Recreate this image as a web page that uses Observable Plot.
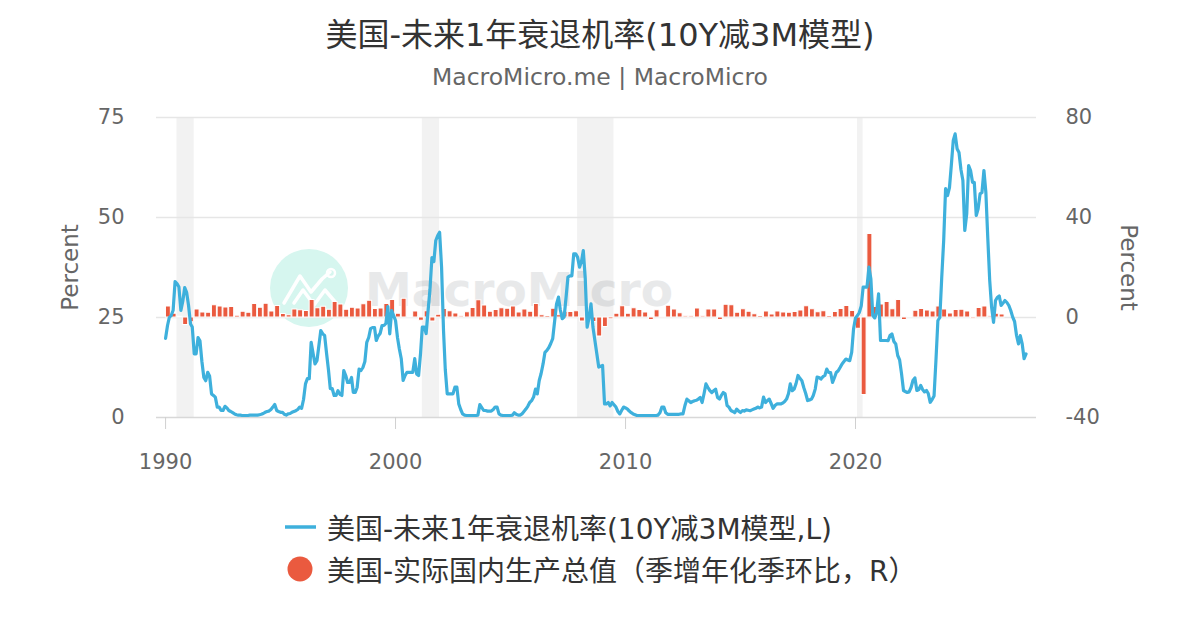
<!DOCTYPE html>
<html><head><meta charset="utf-8">
<script src="https://cdn.jsdelivr.net/npm/d3@7"></script>
<script src="https://cdn.jsdelivr.net/npm/@observablehq/plot@0.6"></script>
<style>
body{margin:0;background:#fff;font-family:"DejaVu Sans","Noto Sans CJK SC",sans-serif;}
#page{position:relative;width:1200px;height:630px;overflow:hidden;background:#fff;}
#title{position:absolute;left:0;top:17px;width:1200px;text-align:center;font-size:32px;line-height:36px;color:#333;}
#subtitle{position:absolute;left:0;top:64px;width:1200px;text-align:center;font-size:23.5px;line-height:26px;color:#666;}
#wm{position:absolute;left:0;top:0;}
#chart{position:absolute;left:0;top:100px;}
.lg{position:absolute;left:285px;height:34px;display:flex;align-items:center;font-size:28px;color:#333;white-space:nowrap;}
.lg .sym{width:42px;height:34px;flex:none;}
</style></head>
<body>
<div id="page">
  <svg id="wm" width="1200" height="630">
    <circle cx="309" cy="288" r="39" fill="#d6f6ef"></circle>
    <polyline points="284,303 300,276 311,292 322,279 330,272" fill="none" stroke="#fff" stroke-width="3.5" stroke-linejoin="round" stroke-linecap="round"></polyline>
    <polyline points="294,303 303,290 314,305 325,290 336,303" fill="none" stroke="#fff" stroke-width="3.5" stroke-linejoin="round" stroke-linecap="round"></polyline>
    <circle cx="331" cy="273" r="4" fill="none" stroke="#fff" stroke-width="2.5"></circle>
    <text x="365" y="289" dominant-baseline="central" font-family="DejaVu Sans" font-weight="bold" font-size="47" fill="#e8e9ea">MacroMicro</text>
  </svg>
  <div id="title">美国-未来1年衰退机率(10Y减3M模型)</div>
  <div id="subtitle">MacroMicro.me | MacroMicro</div>
  <div id="chart"></div>
  <div class="lg" style="top:510px"><svg class="sym" width="42" height="34"><line x1="0" y1="17" x2="31" y2="17" stroke="#3eb0dc" stroke-width="3.5"></line></svg>美国-未来1年衰退机率(10Y减3M模型,L)</div>
  <div class="lg" style="top:552px"><svg class="sym" width="42" height="34"><circle cx="15" cy="17" r="12.5" fill="#ea5a3f"></circle></svg>美国-实际国内生产总值（季增年化季环比，R）</div>
</div>
<script>
// Monthly recession probability (%) by year, Jan..Dec
const prob1990 = [19.8, 23, 25, 25.5, 26.8, 34, 33.5, 32.6, 26.8, 29, 32.5, 31.3];
const prob1991 = [28, 23.4, 22.6, 15.9, 15.9, 20, 19.2, 14, 10, 9.2, 11.3, 10.4];
const prob1992 = [5.9, 5.5, 5.1, 2.6, 2.6, 1.75, 1.75, 2.8, 2.4, 1.75, 1.5, 1.2];
const prob1993 = [0.9, 0.7, 0.6, 0.6, 0.5, 0.5, 0.5, 0.5, 0.6, 0.6, 0.6, 0.6];
const prob1994 = [0.6, 0.7, 0.8, 1.0, 1.3, 1.5, 1.6, 2.0, 2.6, 3.25, 1.75, 1.5];
const prob1995 = [1.3, 1.3, 0.8, 0.6, 0.9, 1.0, 1.3, 1.5, 1.7, 2.0, 2.6, 2.3];
const prob1996 = [4.5, 8.4, 9.7, 9.7, 18.8, 16, 13.4, 14.2, 18, 21.75, 20.9, 20.5];
const prob1997 = [16, 11.75, 7.2, 7.2, 5.5, 5.5, 6.7, 5.8, 5.5, 11.75, 10.5, 8.75];
const prob1998 = [8.75, 10, 6.3, 6.3, 7.5, 12.1, 11.75, 12.5, 14, 18.8, 20, 22.2];
const prob1999 = [22.5, 22.5, 19.25, 20.4, 21, 23, 23, 23.5, 27.75, 20.9, 26.75, 25.5];
const prob2000 = [24.25, 20, 17.2, 14.7, 9.25, 10.5, 11.3, 11.3, 11.3, 11.3, 14.7, 10.9];
const prob2001 = [10.5, 16, 22.6, 22.6, 21, 26.75, 32, 40, 39, 44.25, 45.5, 46.3];
const prob2002 = [37.6, 21.75, 12, 5.9, 5.9, 5.9, 5.9, 7.6, 7.6, 3.4, 2.0, 0.9];
const prob2003 = [0.6, 0.5, 0.5, 0.5, 0.5, 0.5, 0.5, 0.6, 3.25, 2.5, 1.75, 1.75];
const prob2004 = [1.6, 1.6, 1.6, 2.0, 2.6, 2.6, 0.9, 0.6, 0.5, 0.5, 0.5, 0.5];
const prob2005 = [0.5, 0.6, 1.2, 0.8, 0.6, 0.6, 0.9, 1.5, 2.1, 2.8, 3.75, 4.2];
const prob2006 = [5.1, 7.1, 5.9, 9.25, 11, 13.4, 16.3, 16.8, 17.5, 18.5, 19.7, 24];
const prob2007 = [28.4, 30.1, 27, 24.7, 25.1, 30, 35.1, 35.4, 35.4, 40.9, 40.9, 40.1];
const prob2008 = [37.6, 39, 41.75, 34.7, 22.6, 25, 28.4, 22.6, 19.25, 16, 12.6, 12.8];
const prob2009 = [13, 3.4, 3.4, 3.75, 2.9, 3.75, 3.2, 2.6, 1.5, 0.9, 1.8, 2.6];
const prob2010 = [2.4, 2.1, 1.6, 1.2, 0.9, 0.7, 0.5, 0.5, 0.5, 0.5, 0.5, 0.5];
const prob2011 = [0.5, 0.5, 0.5, 0.5, 0.5, 0.6, 1.2, 2.6, 2.6, 1.2, 0.8, 0.8];
const prob2012 = [0.8, 0.8, 0.8, 0.8, 0.8, 0.9, 0.9, 3.0, 4.6, 4.2, 3.75, 4.0];
const prob2013 = [4.2, 4.3, 4.6, 5.0, 3.75, 6, 8.4, 7.5, 6.7, 6.25, 6.7, 7.1];
const prob2014 = [5.0, 4.6, 5.5, 6.25, 5.9, 3.0, 2.6, 1.75, 1.5, 1.2, 2.1, 1.6];
const prob2015 = [1.25, 1.75, 1.6, 1.9, 1.8, 1.7, 1.9, 2.1, 2.3, 2.6, 2.4, 2.6];
const prob2016 = [5.1, 3.75, 4.2, 4.6, 3.5, 2.3, 3.0, 3.4, 3.4, 3.4, 3.6, 4.0];
const prob2017 = [4.6, 6.0, 8.4, 6.7, 7.1, 8.5, 10.5, 9.8, 9.2, 7.5, 6.0, 4.25];
const prob2018 = [4.4, 4.6, 5.5, 7.1, 10.1, 10, 9.6, 10.2, 10.5, 12.1, 11.25, 11.25];
const prob2019 = [8.75, 10, 11.25, 11.7, 12.5, 13.4, 14, 14.6, 14.4, 14.2, 16.3, 22.2];
const prob2020 = [24.9, 25.5, 26.25, 27.9, 32.6, 32.6, 32.6, 37.6, 34.6, 25.5, 24.9, 26.25];
const prob2021 = [30.9, 19.25, 19.25, 19.25, 19.25, 19.2, 20.5, 20.9, 19, 18.4, 15.5, 14.4];
const prob2022 = [10.9, 6.75, 6.5, 6.25, 6.4, 7.5, 9.25, 9.9, 6.75, 7, 8, 7];
const prob2023 = [6.4, 6.75, 6.0, 3.8, 4.5, 5.4, 14.25, 24.25, 25, 35, 44.25, 57.2];
const prob2024 = [55.5, 57.5, 63, 69.25, 70.9, 67.2, 66.25, 62, 59.25, 46.75, 50.9, 63];
const prob2025 = [61.75, 58.8, 58.8, 50.5, 52.2, 55.9, 56.25, 61.75, 56.25, 45, 34.25, 27.6];
const prob2026 = [23.8, 29.25, 30, 30.4, 28, 28.6, 29.25, 28.75, 28, 26.75, 25.1, 24];
const prob2027 = [20.5, 18.4, 20.5, 18.4, 14.7, 15.9];

// Quarterly real GDP, QoQ annualized (%), Q1..Q4
const gdp1990 = [4.4, 1.5, 0.3, -3.0];
const gdp1991 = [-1.9, 3.2, 2.0, 1.9];
const gdp1992 = [4.9, 4.4, 4.0, 4.2];
const gdp1993 = [0.7, 2.3, 1.9, 5.4];
const gdp1994 = [3.9, 5.5, 2.4, 4.6];
const gdp1995 = [1.4, 0.9, 3.2, 2.9];
const gdp1996 = [2.6, 7.0, 3.7, 4.3];
const gdp1997 = [3.1, 6.2, 5.2, 3.1];
const gdp1998 = [3.9, 3.6, 5.3, 6.7];
const gdp1999 = [3.4, 3.6, 5.4, 7.0];
const gdp2000 = [1.5, 7.5, 0.4, 2.4];
const gdp2001 = [-1.3, 2.5, -1.6, 1.1];
const gdp2002 = [3.4, 2.5, 1.6, 0.5];
const gdp2003 = [2.1, 3.8, 6.9, 4.8];
const gdp2004 = [2.3, 3.0, 3.7, 3.5];
const gdp2005 = [4.4, 2.0, 3.2, 2.3];
const gdp2006 = [5.4, 0.9, 0.6, 3.5];
const gdp2007 = [0.9, 2.3, 2.2, 2.5];
const gdp2008 = [-1.6, 2.3, -1.8, -7.6];
const gdp2009 = [-3.8, -0.7, 1.5, 4.5];
const gdp2010 = [1.5, 3.7, 3.0, 2.0];
const gdp2011 = [-1.0, 2.9, -0.1, 4.7];
const gdp2012 = [3.2, 1.7, 0.5, 0.5];
const gdp2013 = [3.6, 0.5, 3.2, 3.2];
const gdp2014 = [-1.0, 5.1, 4.9, 1.9];
const gdp2015 = [3.3, 2.3, 1.3, 0.6];
const gdp2016 = [2.4, 1.2, 2.4, 2.0];
const gdp2017 = [1.9, 2.2, 2.8, 4.5];
const gdp2018 = [3.3, 2.1, 2.5, 0.6];
const gdp2019 = [2.2, 3.4, 4.6, 2.6];
const gdp2020 = [-4.5, -31.0, 33.4, 4.2];
const gdp2021 = [5.2, 6.2, 3.3, 7.0];
const gdp2022 = [-1.0, 0.3, 2.7, 3.4];
const gdp2023 = [2.8, 2.4, 4.4, 3.2];
const gdp2024 = [1.6, 3.0, 3.1, 2.4];
const gdp2025 = [-0.5, 3.8, 4.4, 0.5];
const gdp2026 = [1.5, 1.2];

// NBER recessions [start year, start month, end year, end month]
const recStart = [[1990, 6], [2001, 2], [2007, 11], [2020, 1]];
const recEnd = [[1991, 3], [2001, 11], [2009, 6], [2020, 4]];

const leftTicks = [0, 25, 50, 75];
const rightTicks = [-40, 0, 40, 80];
const xTickYears = [1990, 2000, 2010, 2020];

const probYears = [prob1990, prob1991, prob1992, prob1993, prob1994, prob1995, prob1996, prob1997, prob1998, prob1999,
  prob2000, prob2001, prob2002, prob2003, prob2004, prob2005, prob2006, prob2007, prob2008, prob2009,
  prob2010, prob2011, prob2012, prob2013, prob2014, prob2015, prob2016, prob2017, prob2018, prob2019,
  prob2020, prob2021, prob2022, prob2023, prob2024, prob2025, prob2026, prob2027];
const gdpYears = [gdp1990, gdp1991, gdp1992, gdp1993, gdp1994, gdp1995, gdp1996, gdp1997, gdp1998, gdp1999,
  gdp2000, gdp2001, gdp2002, gdp2003, gdp2004, gdp2005, gdp2006, gdp2007, gdp2008, gdp2009,
  gdp2010, gdp2011, gdp2012, gdp2013, gdp2014, gdp2015, gdp2016, gdp2017, gdp2018, gdp2019,
  gdp2020, gdp2021, gdp2022, gdp2023, gdp2024, gdp2025, gdp2026];

const probData = probYears.flat().map((v, i) => ({date: new Date(Date.UTC(1990, i, 1)), v}));
const gdpData = gdpYears.flat().map((v, i) => ({
  start: new Date(Date.UTC(1990, 3 * i, 1)),
  end: new Date(Date.UTC(1990, 3 * i + 3, 1)),
  v
}));
const recData = recStart.map((s, i) => ({
  start: new Date(Date.UTC(s[0], s[1], 1)),
  end: new Date(Date.UTC(recEnd[i][0], recEnd[i][1], 1))
}));

// right axis (-40..80) mapped onto left axis (0..75)
const rMin = -40, rMax = 80, lMin = 0, lMax = 75;
const toLeft = r => lMin + (r - rMin) * (lMax - lMin) / (rMax - rMin);
const toRight = l => rMin + (l - lMin) * (rMax - rMin) / (lMax - lMin);
const zeroL = toLeft(0);

const chart = Plot.plot({
  width: 1200,
  height: 400,
  marginLeft: 156,
  marginRight: 164,
  marginTop: 17,
  marginBottom: 83,
  style: {background: "transparent", fontFamily: "DejaVu Sans, Noto Sans CJK SC, sans-serif", overflow: "visible"},
  x: {type: "utc", domain: [new Date(Date.UTC(1989, 7, 10)), new Date(Date.UTC(2027, 10, 14))]},
  y: {domain: [lMin, lMax]},
  marks: [
    Plot.rect(recData, {x1: "start", x2: "end", y1: lMin, y2: lMax, fill: "#000", fillOpacity: 0.052}),
    Plot.gridY(leftTicks.slice(1), {stroke: "#e6e6e6", strokeOpacity: 1, strokeWidth: 1.5}),
    Plot.ruleY([lMin], {stroke: "#d8d8d8", strokeWidth: 1.5}),
    Plot.axisX(xTickYears.map(y => new Date(Date.UTC(y, 0, 1))), {
      tickFormat: d => String(d.getUTCFullYear()), tickSize: 12, tickPadding: 25, fontSize: 21, color: "#666", stroke: "#d0d0d0", label: null
    }),
    Plot.axisY(leftTicks, {anchor: "left", tickSize: 0, tickPadding: 32, fontSize: 21, color: "#666", label: null}),
    Plot.axisY(rightTicks.map(toLeft), {anchor: "right", tickSize: 0, tickPadding: 29, fontSize: 21, color: "#666", tickFormat: d => String(Math.round(toRight(d))), label: null}),
    Plot.text(["Percent"], {frameAnchor: "left", textAnchor: "middle", dx: -86, rotate: -90, fontSize: 23, fill: "#666"}),
    Plot.text(["Percent"], {frameAnchor: "right", textAnchor: "middle", dx: 92, rotate: 90, fontSize: 23, fill: "#666"}),
    Plot.rect(gdpData, {x1: "start", x2: "end", y1: zeroL, y2: d => toLeft(d.v), fill: "#ea5a3f", stroke: "#fff", strokeWidth: 1, insetLeft: 0.4, insetRight: 0.4}),
    Plot.line(probData, {x: "date", y: "v", stroke: "#3eb0dc", strokeWidth: 3.2, strokeLinejoin: "round"})
  ]
});
document.getElementById("chart").appendChild(chart);
</script>
</body></html>
